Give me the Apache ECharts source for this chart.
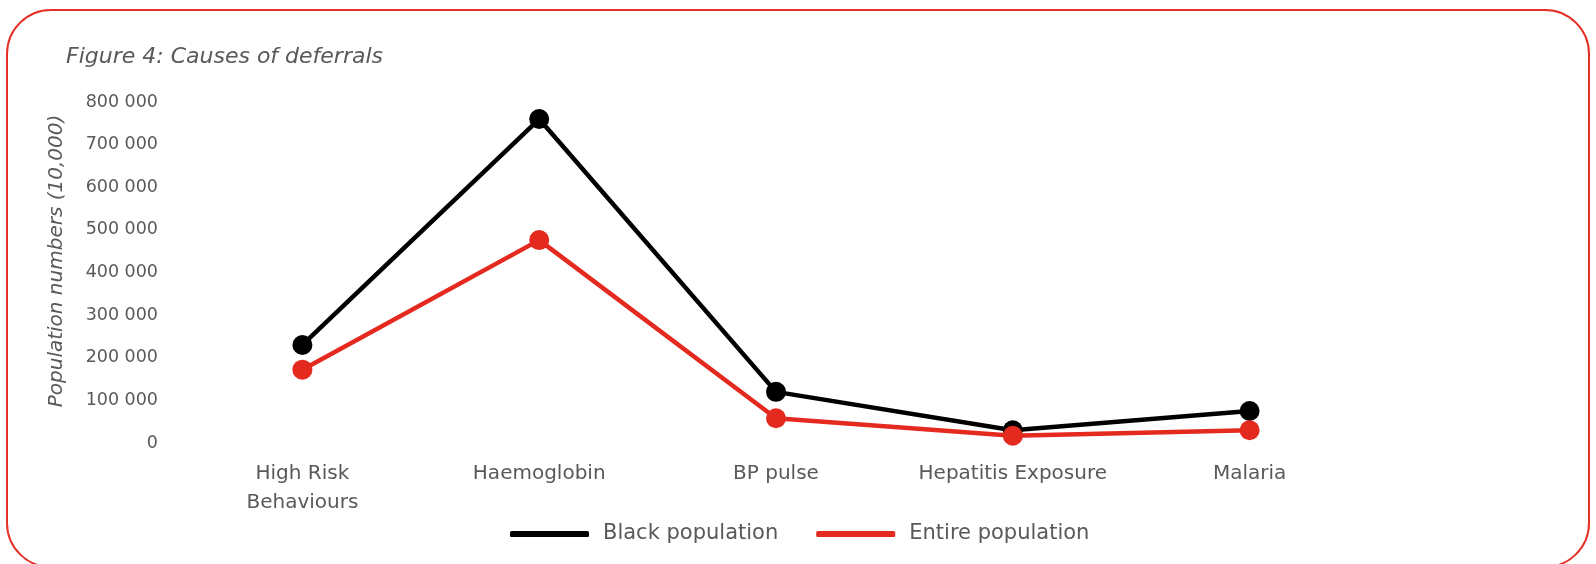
<!DOCTYPE html>
<html>
<head>
<meta charset="utf-8">
<title>Causes of deferrals</title>
<script src="https://cdn.jsdelivr.net/npm/echarts@6/dist/echarts.min.js"></script>
<style>
  html, body { margin: 0; padding: 0; background: #ffffff; }
  #chart { width: 1596px; height: 564px; }
</style>
</head>
<body>
<div id="chart"></div>
<script>
// Deferral causes and counts per population group
const categories = ['High Risk\nBehaviours', 'Haemoglobin', 'BP pulse', 'Hepatitis Exposure', 'Malaria'];
const blackPopulation = [230000, 760000, 120000, 30000, 75000];
const entirePopulation = [172000, 476000, 58000, 17000, 30000];
const seriesNames = ['Black population', 'Entire population'];
const yTickMax = 800000;
const yTickStep = 100000;

const FONT = '"DejaVu Sans", "Noto Sans", sans-serif';
const GREY = '#595959';
const RED = '#E4291E';

const chart = echarts.init(document.getElementById('chart'), null, { renderer: 'canvas' });

// "800 000" style thousands grouping
function spaced(v) {
  return String(v).replace(/\B(?=(\d{3})+(?!\d))/g, ' ');
}

chart.setOption({
  animation: false,
  backgroundColor: '#ffffff',
  textStyle: { fontFamily: FONT },
  title: {
    text: 'Figure 4: Causes of deferrals',
    left: 61,
    top: 41,
    textStyle: { fontFamily: FONT, fontStyle: 'italic', fontWeight: 'normal', fontSize: 22, color: GREY }
  },
  graphic: [
    {
      type: 'rect',
      silent: true,
      shape: { x: 7, y: 10, width: 1582, height: 557, r: 44 },
      style: { fill: 'none', stroke: '#E53027', lineWidth: 2 }
    },
    {
      type: 'text',
      silent: true,
      x: 57,
      y: 261,
      rotation: Math.PI / 2,
      style: {
        text: 'Population numbers (10,000)',
        fontFamily: FONT,
        fontStyle: 'italic',
        fontSize: 20,
        fill: GREY,
        align: 'center',
        verticalAlign: 'middle'
      }
    }
  ],
  legend: {
    data: seriesNames,
    left: 505,
    top: 516,
    itemWidth: 79,
    itemHeight: 6,
    itemGap: 38,
    icon: 'roundRect',
    textStyle: { fontFamily: FONT, fontSize: 21, color: GREY, lineHeight: 26, padding: [0, 0, 0, 9] }
  },
  grid: { left: 184, right: 228, top: 102, bottom: 121, containLabel: false },
  xAxis: {
    type: 'category',
    data: categories,
    boundaryGap: true,
    axisLine: { show: false },
    axisTick: { show: false },
    splitLine: { show: false },
    axisLabel: { fontFamily: FONT, fontSize: 20, color: GREY, lineHeight: 29, margin: 16, interval: 0 }
  },
  yAxis: {
    type: 'value',
    min: 0,
    max: yTickMax,
    interval: yTickStep,
    axisLine: { show: false },
    axisTick: { show: false },
    splitLine: { show: false },
    axisLabel: { fontFamily: FONT, fontSize: 17.5, color: GREY, margin: 26, padding: [10, 0, 0, 0], formatter: spaced }
  },
  series: [
    {
      name: seriesNames[0],
      type: 'line',
      data: blackPopulation,
      symbol: 'circle',
      symbolSize: 20,
      lineStyle: { color: '#000000', width: 4.5 },
      itemStyle: { color: '#000000' },
      z: 2
    },
    {
      name: seriesNames[1],
      type: 'line',
      data: entirePopulation,
      symbol: 'circle',
      symbolSize: 20,
      lineStyle: { color: RED, width: 4.5 },
      itemStyle: { color: RED },
      z: 3
    }
  ]
});
</script>
</body>
</html>
